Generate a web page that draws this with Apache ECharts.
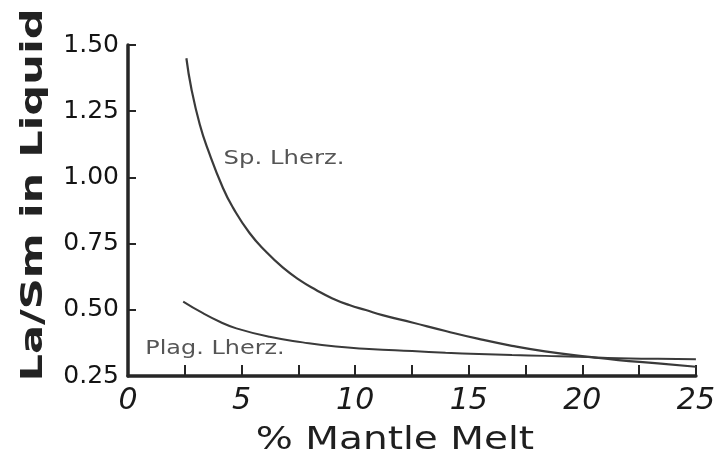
<!DOCTYPE html>
<html>
<head>
<meta charset="utf-8">
<script src="https://cdn.jsdelivr.net/npm/echarts@6/dist/echarts.min.js"></script>
<style>
html,body{margin:0;padding:0;background:#fff;}
#chart{width:718px;height:459px;}
</style>
</head>
<body>
<div id="chart"></div>
<script>
// ---- data ----
const spX = [2.57, 2.79, 3.16, 3.52, 4.18, 4.62, 5.35, 6.08, 6.81, 7.54, 8.28, 9.00, 9.74, 10.47, 11.20, 12.51, 13.98, 15.44, 16.90, 18.36, 20.41, 21.58, 23.33, 25];
const spY = [1.450, 1.335, 1.200, 1.105, 0.960, 0.886, 0.790, 0.719, 0.660, 0.613, 0.575, 0.543, 0.518, 0.499, 0.480, 0.452, 0.420, 0.390, 0.364, 0.343, 0.321, 0.310, 0.298, 0.285];
const plagX = [2.43, 3.30, 4.04, 4.77, 6.23, 7.69, 9.15, 10.61, 12.51, 13.98, 15.44, 16.90, 18.36, 19.82, 21.58, 23.33, 25];
const plagY = [0.531, 0.487, 0.455, 0.430, 0.398, 0.377, 0.361, 0.352, 0.344, 0.338, 0.333, 0.329, 0.326, 0.323, 0.317, 0.315, 0.313];
const xTickLabels = [0, 5, 10, 15, 20, 25];
const yTickLabels = ['0.25', '0.50', '0.75', '1.00', '1.25', '1.50'];
const seriesNames = ['Sp. Lherz.', 'Plag. Lherz.'];
const xTitle = '% Mantle Melt';
const yTitle = 'La/Sm in Liquid';

const zip = (xs, ys) => xs.map((x, i) => [x, ys[i]]);

const chart = echarts.init(document.getElementById('chart'), null, {renderer: 'canvas'});
const axisColor = '#262626';
const option = {
  animation: false,
  backgroundColor: '#ffffff',
  grid: {left: 128, right: 19, top: 45, bottom: 83},
  xAxis: {
    type: 'value', min: 0, max: 25, interval: 2.5,
    axisLine: {show: true, onZero: false, lineStyle: {color: axisColor, width: 3.5}},
    axisTick: {show: true, inside: true, length: 11, lineStyle: {color: axisColor, width: 2}},
    splitLine: {show: false},
    axisLabel: {
      margin: 10, color: '#1a1a1a', fontSize: 30, fontStyle: 'italic',
      fontFamily: 'DejaVu Sans',
      formatter: v => (xTickLabels.indexOf(v) >= 0 ? String(v) : '')
    }
  },
  yAxis: {
    type: 'value', min: 0.25, max: 1.5, interval: 0.25,
    axisLine: {show: true, onZero: false, lineStyle: {color: axisColor, width: 3.5}},
    axisTick: {show: true, inside: true, length: 8, lineStyle: {color: axisColor, width: 2}},
    splitLine: {show: false},
    axisLabel: {
      margin: 9, color: '#141414', fontSize: 25, fontFamily: 'DejaVu Sans',
      formatter: v => yTickLabels[Math.round((v - 0.25) / 0.25)]
    }
  },
  series: [
    {
      name: seriesNames[0], type: 'line', data: zip(spX, spY),
      smooth: 0.5, showSymbol: false,
      lineStyle: {color: '#3a3a3a', width: 2.2}
    },
    {
      name: seriesNames[1], type: 'line', data: zip(plagX, plagY),
      smooth: 0.5, showSymbol: false,
      lineStyle: {color: '#3a3a3a', width: 2}
    }
  ],
  graphic: [
    {
      type: 'text', x: 34, y: 195, rotation: Math.PI / 2, scaleX: 1.39,
      style: {text: yTitle, fontSize: 31, fontWeight: 'bold', fontFamily: 'DejaVu Sans',
              fill: '#222', align: 'center', verticalAlign: 'middle'}
    },
    {
      type: 'text', x: 395, y: 441, scaleX: 1.22,
      style: {text: xTitle, fontSize: 32, fontFamily: 'DejaVu Sans',
              fill: '#1f1f1f', align: 'center', verticalAlign: 'middle'}
    },
    {
      type: 'text', x: 284, y: 159, scaleX: 1.28,
      style: {text: seriesNames[0], fontSize: 19, fontFamily: 'DejaVu Sans',
              fill: '#555', align: 'center', verticalAlign: 'middle'}
    },
    {
      type: 'text', x: 215, y: 349, scaleX: 1.26,
      style: {text: seriesNames[1], fontSize: 19, fontFamily: 'DejaVu Sans',
              fill: '#555', align: 'center', verticalAlign: 'middle'}
    }
  ]
};
chart.setOption(option);
</script>
</body>
</html>
